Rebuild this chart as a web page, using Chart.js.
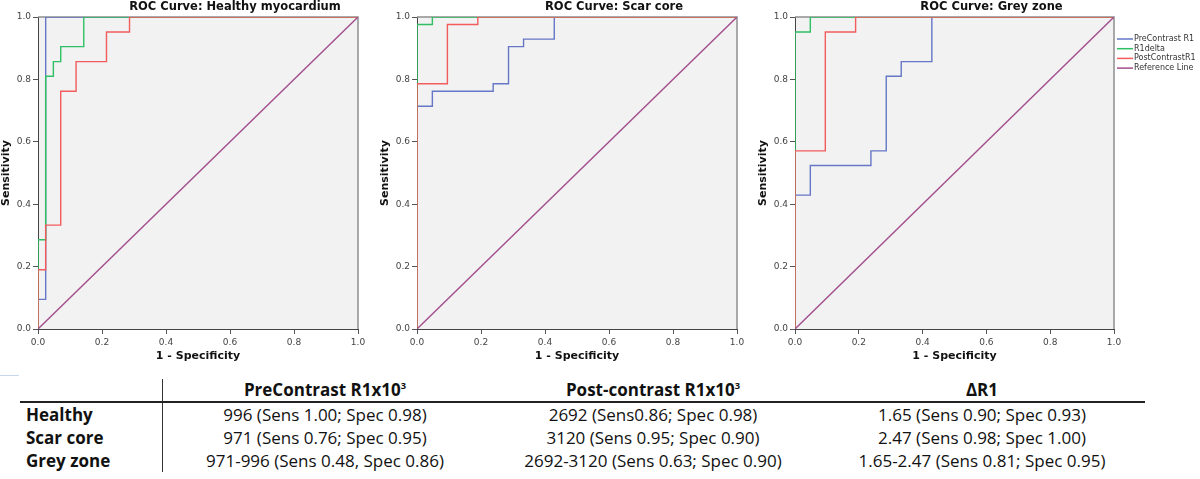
<!DOCTYPE html>
<html>
<head>
<meta charset="utf-8">
<script src="https://cdn.jsdelivr.net/npm/chart.js@4.4.1/dist/chart.umd.min.js"></script>
<style>
  html, body { margin: 0; padding: 0; background: #fff; width: 1200px; height: 479px; overflow: hidden; }
  .panel { position: absolute; top: 0; height: 365px; }
  .mark { position: absolute; left: 0; top: 375px; width: 19px; height: 1px; background: #c9d7ee; }
  #cutoffTable {
    position: absolute; left: 20px; top: 379px;
    border-collapse: collapse; font-family: "Open Sans", sans-serif; font-size: 17px; color: #111;
  }
  #cutoffTable td, #cutoffTable th { padding: 0; line-height: 23px; height: 23px; white-space: nowrap; }
  #cutoffTable th { font-weight: bold; text-align: center; line-height: 22px; height: 22px; border-bottom: 2px solid #222; }
  #cutoffTable td { text-align: center; }
  #cutoffTable .rowhead { text-align: left; font-weight: bold; padding-left: 6px; border-right: 1.5px solid #333; }
  #cutoffTable sup { font-size: 0.55em; vertical-align: 0.75em; line-height: 0; }
</style>
</head>
<body>
<div class="panel" style="left:0;width:379px"><canvas id="healthyChart"></canvas></div>
<div class="panel" style="left:379px;width:378px"><canvas id="scarChart"></canvas></div>
<div class="panel" style="left:757px;width:443px"><canvas id="greyChart"></canvas></div>
<div class="mark"></div>
<table id="cutoffTable"></table>

<script>
// ---- data ----
const rocTicks = [0, 0.2, 0.4, 0.6, 0.8, 1.0];
const seriesNames = ['PreContrast R1', 'R1delta', 'PostContrastR1', 'Reference Line'];
const seriesColors = ['#6577c6', '#2fc063', '#f25c5c', '#a24e8d'];

// corners of each ROC step: 1 - specificity / sensitivity
const healthyPreFpr = [0, 0, 0.024, 1];
const healthyPreSens = [0, 0.095, 1, 1];
const healthyDeltaFpr = [0, 0, 0.024, 0.048, 0.071, 0.143, 1];
const healthyDeltaSens = [0, 0.286, 0.810, 0.857, 0.905, 1, 1];
const healthyPostFpr = [0, 0, 0.024, 0.071, 0.119, 0.214, 0.286, 1];
const healthyPostSens = [0, 0.190, 0.333, 0.762, 0.857, 0.952, 1, 1];

const scarPreFpr = [0, 0, 0.048, 0.238, 0.286, 0.333, 0.429, 1];
const scarPreSens = [0, 0.714, 0.762, 0.786, 0.905, 0.929, 1, 1];
const scarDeltaFpr = [0, 0, 0.048, 1];
const scarDeltaSens = [0, 0.976, 1, 1];
const scarPostFpr = [0, 0, 0.095, 0.190, 1];
const scarPostSens = [0, 0.786, 0.976, 1, 1];

const greyPreFpr = [0, 0, 0.048, 0.238, 0.286, 0.333, 0.429, 1];
const greyPreSens = [0, 0.429, 0.524, 0.571, 0.810, 0.857, 1, 1];
const greyDeltaFpr = [0, 0, 0.048, 1];
const greyDeltaSens = [0, 0.952, 1, 1];
const greyPostFpr = [0, 0, 0.095, 0.190, 1];
const greyPostSens = [0, 0.571, 0.952, 1, 1];

const referenceFpr = [0, 1];
const referenceSens = [0, 1];

// cut-off table
const tableRowNames = ['Healthy', 'Scar core', 'Grey zone'];
const tableHeads = [['PreContrast R1x10', '3'], ['Post-contrast R1x10', '3'], ['\u0394R1', '']];
const preCutoffs = ['996 (Sens 1.00; Spec 0.98)', '971 (Sens 0.76; Spec 0.95)', '971-996 (Sens 0.48, Spec 0.86)'];
const postCutoffs = ['2692 (Sens0.86; Spec 0.98)', '3120 (Sens 0.95; Spec 0.90)', '2692-3120 (Sens 0.63; Spec 0.90)'];
const deltaCutoffs = ['1.65 (Sens 0.90; Spec 0.93)', '2.47 (Sens 0.98; Spec 1.00)', '1.65-2.47 (Sens 0.81; Spec 0.95)'];

// ---- chart setup ----
Chart.defaults.responsive = true;
Chart.defaults.maintainAspectRatio = false;
Chart.defaults.animation = false;
Chart.defaults.font.family = '"DejaVu Sans", sans-serif';
Chart.defaults.color = '#444';

// grey plot background plus the light frame on top/right
const plotFrame = {
    id: 'plotFrame',
    beforeDraw(chart) {
        const { ctx, chartArea: a } = chart;
        ctx.save();
        ctx.fillStyle = '#f2f2f2';
        ctx.fillRect(a.left, a.top, a.right - a.left, a.bottom - a.top);
        ctx.restore();
    },
    beforeDatasetsDraw(chart) {
        const { ctx, chartArea: a } = chart;
        ctx.save();
        ctx.strokeStyle = '#8f8f8f';
        ctx.lineWidth = 1.5;
        ctx.beginPath();
        ctx.moveTo(a.left, a.top);
        ctx.lineTo(a.right, a.top);
        ctx.lineTo(a.right, a.bottom);
        ctx.stroke();
        ctx.restore();
    }
};

// SPSS-style title, sits a bit right of the plot centre
const panelTitle = {
    id: 'panelTitle',
    afterDraw(chart, args, opts) {
        const { ctx, chartArea: a } = chart;
        ctx.save();
        ctx.font = 'bold 11.5px "DejaVu Sans"';
        ctx.fillStyle = '#111';
        ctx.textAlign = 'center';
        ctx.fillText(opts.text, (a.left + a.right) / 2 + 37, 10);
        ctx.restore();
    }
};

// line legend to the right of the plot (only on the last panel)
const sideLegend = {
    id: 'sideLegend',
    afterDraw(chart, args, opts) {
        if (!opts.show) return;
        const { ctx, chartArea: a } = chart;
        ctx.save();
        ctx.font = '8px "DejaVu Sans"';
        ctx.textBaseline = 'middle';
        chart.data.datasets.forEach((ds, i) => {
            const x = a.right + 3;
            const y = a.top + 22 + i * 9.7;
            ctx.strokeStyle = ds.borderColor;
            ctx.lineWidth = 1.5;
            ctx.beginPath();
            ctx.moveTo(x, y);
            ctx.lineTo(x + 16, y);
            ctx.stroke();
            ctx.fillStyle = '#333';
            ctx.fillText(ds.label, x + 17, y);
        });
        ctx.restore();
    }
};

function toPoints(fpr, sens) {
    return fpr.map((x, i) => ({ x: x, y: sens[i] }));
}

function rocDatasets(curves) {
    // curves: [pre, delta, post] as [fpr, sens]; reference goes last
    const all = curves.concat([[referenceFpr, referenceSens]]);
    return all.map((c, i) => ({
        label: seriesNames[i],
        data: toPoints(c[0], c[1]),
        borderColor: seriesColors[i],
        borderWidth: 1.4,
        pointRadius: 0,
        fill: false,
        stepped: i < 3 ? true : false,
        order: 3 - i // later series painted on top
    }));
}

function axis(title, isY) {
    return {
        type: 'linear',
        min: 0,
        max: 1,
        afterBuildTicks: s => { s.ticks = rocTicks.map(v => ({ value: v })); },
        afterFit: s => { if (isY) s.width = 38; else s.height = 36; },
        ticks: {
            font: { size: 9 },
            color: '#444',
            padding: isY ? 2 : 3,
            maxRotation: 0,
            callback: v => v.toFixed(1)
        },
        grid: { display: true, drawOnChartArea: false, drawTicks: true, tickLength: 5, color: '#555' },
        border: { display: true, color: '#444', width: 1 },
        title: {
            display: true,
            text: title,
            color: '#111',
            font: { size: 11, weight: 'bold' },
            padding: isY ? { top: 0, bottom: 0 } : { top: 0, bottom: 2 }
        }
    };
}

function renderRoc(canvasId, titleText, curves, rightPad, withLegend) {
    const ctx = document.getElementById(canvasId).getContext('2d');
    return new Chart(ctx, {
        type: 'line',
        data: { datasets: rocDatasets(curves) },
        options: {
            layout: { padding: { top: 17, right: rightPad, left: 0, bottom: 0 } },
            scales: {
                x: axis('1 - Specificity', false),
                y: axis('Sensitivity', true)
            },
            plugins: {
                legend: { display: false },
                tooltip: { enabled: false },
                panelTitle: { text: titleText },
                sideLegend: { show: withLegend }
            }
        },
        plugins: [plotFrame, panelTitle, sideLegend]
    });
}

renderRoc('healthyChart', 'ROC Curve: Healthy myocardium', [
    [healthyPreFpr, healthyPreSens],
    [healthyDeltaFpr, healthyDeltaSens],
    [healthyPostFpr, healthyPostSens]
], 21, false);

renderRoc('scarChart', 'ROC Curve: Scar core', [
    [scarPreFpr, scarPreSens],
    [scarDeltaFpr, scarDeltaSens],
    [scarPostFpr, scarPostSens]
], 20, false);

renderRoc('greyChart', 'ROC Curve: Grey zone', [
    [greyPreFpr, greyPreSens],
    [greyDeltaFpr, greyDeltaSens],
    [greyPostFpr, greyPostSens]
], 86, true);

// ---- table ----
const table = document.getElementById('cutoffTable');
const colWidths = [142, 324, 332, 326];
let html = '<tr><th class="rowhead" style="width:' + (colWidths[0] - 6) + 'px"></th>';
tableHeads.forEach((h, i) => {
    html += '<th style="width:' + colWidths[i + 1] + 'px">' + h[0] + (h[1] ? '<sup>' + h[1] + '</sup>' : '') + '</th>';
});
html += '</tr>';
tableRowNames.forEach((name, r) => {
    html += '<tr><td class="rowhead">' + name + '</td><td>' + preCutoffs[r] + '</td><td>' +
        postCutoffs[r] + '</td><td>' + deltaCutoffs[r] + '</td></tr>';
});
table.innerHTML = html;
</script>
</body>
</html>
